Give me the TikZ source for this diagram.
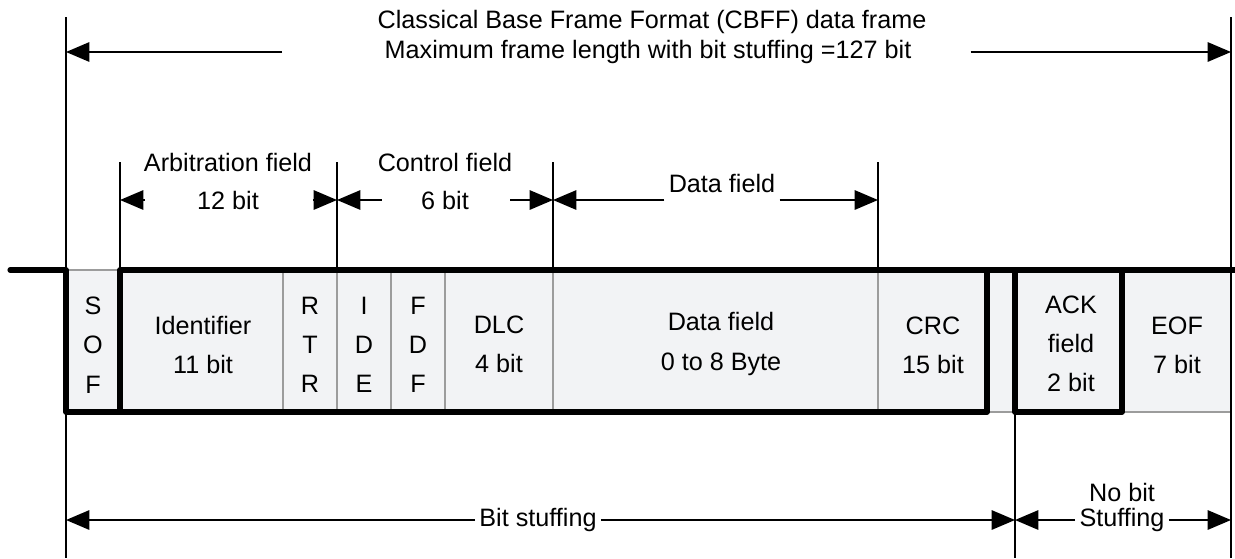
\documentclass[tikz,border=0pt]{standalone}
\usepackage{fontspec}
\setmainfont{Liberation Sans}
\usepackage{xcolor}
\usetikzlibrary{arrows.meta}
\definecolor{cellfill}{HTML}{F2F3F5}
\definecolor{cellline}{HTML}{9C9C9C}

\begin{document}
\begin{tikzpicture}[x=0.03cm, y=-0.03cm, >={Triangle[length=0.7cm, width=0.58cm]},
        lbl/.style={font=\fontsize{21.5}{26}\selectfont, inner sep=3.5pt},
        stack/.style={font=\fontsize{21.5}{33.5}\selectfont, align=center, inner sep=2pt},
        guide/.style={line width=1pt},
        dimline/.style={line width=1.6pt},
        busline/.style={line width=4.4pt, line join=round, line cap=round}]
        \useasboundingbox (0,0) rectangle (1235,558);

        % cells of the frame
        \foreach \a/\b in {66/120, 120/283, 283/337, 337/391, 391/445, 445/553,
                553/878, 878/987, 987/1015, 1015/1122, 1122/1231}
            \path[fill=cellfill, draw=cellline, line width=1.5pt] (\a,270) rectangle (\b,412);

        \node[stack] (sof) at (93,345) {S\\O\\F};
        \node[stack] (ident) at (203,345) {Identifier\\11 bit};
        \node[stack] (rtr) at (310,345) {R\\T\\R};
        \node[stack] (ide) at (364,345) {I\\D\\E};
        \node[stack] (fdf) at (418,345) {F\\D\\F};
        \node[stack] (dlc) at (499,344) {DLC\\4 bit};
        \node[stack] (data) at (721,344) {Data field\\0 to 8 Byte};
        \node[stack] (crc) at (933,345) {CRC\\15 bit};
        \node[stack] (ack) at (1071,344) {ACK\\field\\2 bit};
        \node[stack] (eof) at (1177,345) {EOF\\7 bit};

        % signal edges
        \path[draw, busline] (10,270) -- (66,270) -- (66,412) -- (987,412) -- (987,270);
        \path[draw, busline] (120,412) -- (120,270) -- (1235,270);
        \path[draw, busline] (1015,270) -- (1015,412) -- (1122,412) -- (1122,270);

        % guide lines
        \foreach \x/\t/\b in {66/17/558, 1231/17/558, 120/162/270, 337/162/270,
                553/162/270, 878/162/270, 1015/412/558}
            \path[draw, guide] (\x,\t) -- (\x,\b);

        % whole frame
        \node[lbl] (title) at (652,22) {Classical Base Frame Format (CBFF) data frame};
        \node[lbl] (maxlen) at (648,52) {Maximum frame length with bit stuffing =127 bit};
        \coordinate (topL) at (66,52);
        \coordinate (topR) at (1231,52);
        \draw[->, dimline] ([xshift=-2.95cm]maxlen.west) -- (topL);
        \draw[->, dimline] ([xshift=1.65cm]maxlen.east) -- (topR);

        % fields
        \node[lbl] (arbname) at (228,162) {Arbitration field};
        \node[lbl] (arbbits) at (228,200) {12 bit};
        \node[lbl] (ctrlname) at (445,162) {Control field};
        \node[lbl] (ctrlbits) at (445,200) {6 bit};
        \node[lbl] (dataname) at (722,183) {Data field};
        \coordinate (arbL) at (120,200);
        \coordinate (arbR) at (337,200);
        \coordinate (ctrlR) at (553,200);
        \coordinate (dataR) at (878,200);
        \draw[->, dimline] ([xshift=-1.43cm]arbbits.west) -- (arbL);
        \draw[->, dimline] ([xshift=1.49cm]arbbits.east) -- (arbR);
        \draw[->, dimline] ([xshift=-1.06cm]ctrlbits.west) -- (arbR);
        \draw[->, dimline] ([xshift=1.11cm]ctrlbits.east) -- (ctrlR);
        \draw[->, dimline] (dataname.south west |- ctrlR) -- (ctrlR);
        \draw[->, dimline] (dataname.south east |- dataR) -- (dataR);

        % bit stuffing
        \node[lbl] (stuff) at (538,520) {Bit stuffing};
        \node[lbl] (nobit) at (1122,492) {No bit};
        \node[lbl] (nostuff) at (1122,520) {Stuffing};
        \coordinate (botL) at (66,520);
        \coordinate (botM) at (1015,520);
        \coordinate (botR) at (1231,520);
        \draw[->, dimline] (stuff.west) -- (botL);
        \draw[->, dimline] (stuff.east) -- (botM);
        \draw[->, dimline] (nostuff.west) -- (botM);
        \draw[->, dimline] (nostuff.east) -- (botR);
    \end{tikzpicture}
\end{document}
